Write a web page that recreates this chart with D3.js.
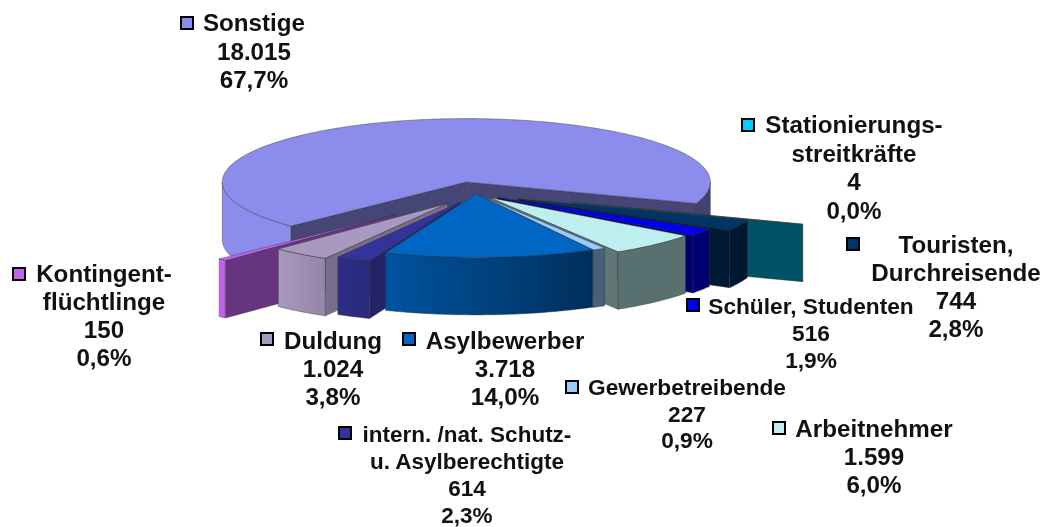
<!DOCTYPE html>
<html>
<head>
<meta charset="utf-8">
<script src="https://d3js.org/d3.v7.min.js"></script>
<style>
  html, body { margin: 0; padding: 0; background: #fff; }
  svg { filter: blur(0.4px); }
  text { font-family: "Liberation Sans", Arial, sans-serif; font-weight: bold; fill: #111; }
</style>
</head>
<body>
<script>
// chart values, clockwise from the right hand cut of "Sonstige"
var categories = ["Stationierungsstreitkräfte", "Touristen, Durchreisende", "Schüler, Studenten", "Arbeitnehmer",
  "Gewerbetreibende", "Asylbewerber", "intern./nat. Schutz- u. Asylberechtigte", "Duldung", "Kontingentflüchtlinge", "Sonstige"];
var values = [4, 744, 516, 1599, 227, 3718, 614, 1024, 150, 18015];
var valueLabels = ["4", "744", "516", "1.599", "227", "3.718", "614", "1.024", "150", "18.015"];
var percentLabels = ["0,0%", "2,8%", "1,9%", "6,0%", "0,9%", "14,0%", "2,3%", "3,8%", "0,6%", "67,7%"];
var nameLines = [["Stationierungs-", "streitkräfte"], ["Touristen,", "Durchreisende"], ["Schüler, Studenten"], ["Arbeitnehmer"],
  ["Gewerbetreibende"], ["Asylbewerber"], ["intern. /nat. Schutz-", "u. Asylberechtigte"], ["Duldung"], ["Kontingent-", "flüchtlinge"], ["Sonstige"]];
var explode = [103, 46, 26, 21, 2, 1, 36, 47, 115, 46];

// styles
var topColors = ["#00ccff", "#003366", "#0000ee", "#beeeee", "#99ccff", "#0066c4", "#333399", "#a899c0", "#c264f0", "#8c8cec"];
var sideShades = [0.4, 0.5, 0.47, 0.5, 0.5, 0.5, 0.68, 0.72, 0.53, 0.5];

// label layout: centre x, first baseline, line step, font size, marker x, marker y
var labelX = [854, 956, 811, 874, 687, 505, 467, 333, 104, 254];
var labelY = [133, 253, 314, 437, 395, 349, 442, 349, 282, 31];
var labelStep = [28.5, 28, 27, 28, 26.5, 28, 27, 28, 28, 28.5];
var labelSize = [24.2, 24.2, 22.7, 24.2, 22.7, 24.2, 22.5, 24.2, 24.2, 24.2];
var markerX = [748, 853, 693, 779, 572, 409, 345, 267, 19, 187];
var markerY = [125, 244, 305, 428, 387, 339, 433, 339, 274, 23];

var svgWidth = 1048;
var svgHeight = 527;
var centerX = 476;
var centerY = 193.7;
var tilt = 0.26;
var wallHeight = 57.5;
var startAngle = 109.7 * Math.PI / 180;

var svg = d3.select("body")
  .append("svg")
  .attr("width", svgWidth)
  .attr("height", svgHeight)
  .style("display", "block");

var defs = svg.append("defs");

var radius = d3.scaleLinear().domain([0, 1]).range([0, 244]);

// how bright an outer wall is, by angle below the x axis
var wallShade = d3.scaleLinear().domain([70, 135]).range([0.47, 1]).clamp(true);

var pie = d3.pie()
  .sort(null)
  .startAngle(startAngle)
  .endAngle(startAngle + 2 * Math.PI);

var slices = pie(values);

function shadeColor(color, k) {
  var c = d3.rgb(color);
  return d3.rgb(c.r * k, c.g * k, c.b * k).formatHex();
}

// screen point of angle a (pie angle) at radius r on a slice with tip t
function project(t, a, r, z) {
  return [t[0] + radius(r) * Math.sin(a), t[1] - tilt * radius(r) * Math.cos(a) + z];
}

// degrees below the x axis, 0 to 360
function below(a) {
  return (a * 180 / Math.PI - 90 + 720) % 360;
}

function arcPoints(t, a0, a1, z) {
  var n = Math.max(2, Math.ceil((a1 - a0) * 60));
  return d3.range(n + 1).map(function(i) {
    return project(t, a0 + (a1 - a0) * i / n, 1, z);
  });
}

var line = d3.line();
var gradId = 0;

function drawWalls(g, d, i, t) {
  // radial walls that face the viewer
  var phi0 = below(d.startAngle);
  var phi1 = below(d.endAngle);
  var side = shadeColor(topColors[i], sideShades[i]);
  [[d.startAngle, Math.cos(phi0 * Math.PI / 180) < 0], [d.endAngle, Math.cos(phi1 * Math.PI / 180) > 0]].forEach(function(s) {
    if (!s[1]) return;
    var pts = [project(t, s[0], 0, 0), project(t, s[0], 1, 0), project(t, s[0], 1, wallHeight), project(t, s[0], 0, wallHeight)];
    g.append("path")
      .attr("d", line(pts) + "Z")
      .attr("fill", side)
      .attr("stroke", "#333")
      .attr("stroke-opacity", 0.6)
      .attr("stroke-width", 0.7);
  });

  // outer wall, only the front half of the circle is seen
  [[Math.PI / 2, 1.5 * Math.PI], [2.5 * Math.PI, 3.5 * Math.PI]].forEach(function(w) {
    var a0 = Math.max(d.startAngle, w[0]);
    var a1 = Math.min(d.endAngle, w[1]);
    if (a1 <= a0) return;
    var topEdge = arcPoints(t, a0, a1, 0);
    var bottomEdge = arcPoints(t, a0, a1, wallHeight).reverse();
    var id = "wall" + (gradId++);
    var grad = defs.append("linearGradient").attr("id", id);
    // arc runs right to left on screen, gradient runs left to right
    grad.append("stop").attr("offset", "0%").attr("stop-color", shadeColor(topColors[i], wallShade(below(a1 - 1e-6))));
    grad.append("stop").attr("offset", "100%").attr("stop-color", shadeColor(topColors[i], wallShade(below(a0))));
    g.append("path")
      .attr("d", line(topEdge.concat(bottomEdge)) + "Z")
      .attr("fill", "url(#" + id + ")")
      .attr("stroke", "#333")
      .attr("stroke-opacity", 0.6)
      .attr("stroke-width", 0.7);
  });
}

function drawTop(g, d, i, t) {
  var pts = [t].concat(arcPoints(t, d.startAngle, d.endAngle, 0));
  g.append("path")
    .attr("d", line(pts) + "Z")
    .attr("fill", topColors[i])
    .attr("stroke", "#333")
    .attr("stroke-opacity", 0.6)
    .attr("stroke-width", 0.7);
}

// back slices first, the ones facing the viewer last
var order = d3.range(slices.length).sort(function(p, q) {
  var mp = Math.abs(below((slices[p].startAngle + slices[p].endAngle) / 2) - 90);
  var mq = Math.abs(below((slices[q].startAngle + slices[q].endAngle) / 2) - 90);
  return mq - mp;
});

var pieGroup = svg.append("g").attr("class", "pie");

order.forEach(function(i) {
  var d = slices[i];
  var mid = (d.startAngle + d.endAngle) / 2;
  var tip = [centerX + explode[i] * Math.sin(mid), centerY - tilt * explode[i] * Math.cos(mid)];
  var g = pieGroup.append("g").attr("class", "slice").attr("data-name", categories[i]);
  drawWalls(g, d, i, tip);
  drawTop(g, d, i, tip);
});

// labels
categories.forEach(function(name, i) {
  var lines = nameLines[i].concat([valueLabels[i], percentLabels[i]]);
  var g = svg.append("g").attr("class", "label");

  g.append("rect")
    .attr("x", markerX[i] - 6)
    .attr("y", markerY[i] - 6)
    .attr("width", 12)
    .attr("height", 12)
    .attr("fill", topColors[i])
    .attr("stroke", "#000")
    .attr("stroke-width", 2);

  g.selectAll("text")
    .data(lines)
    .enter()
    .append("text")
    .attr("x", labelX[i])
    .attr("y", function(t, k) { return labelY[i] + k * labelStep[i]; })
    .attr("text-anchor", "middle")
    .attr("font-size", labelSize[i])
    .text(function(t) { return t; });
});
</script>
</body>
</html>
